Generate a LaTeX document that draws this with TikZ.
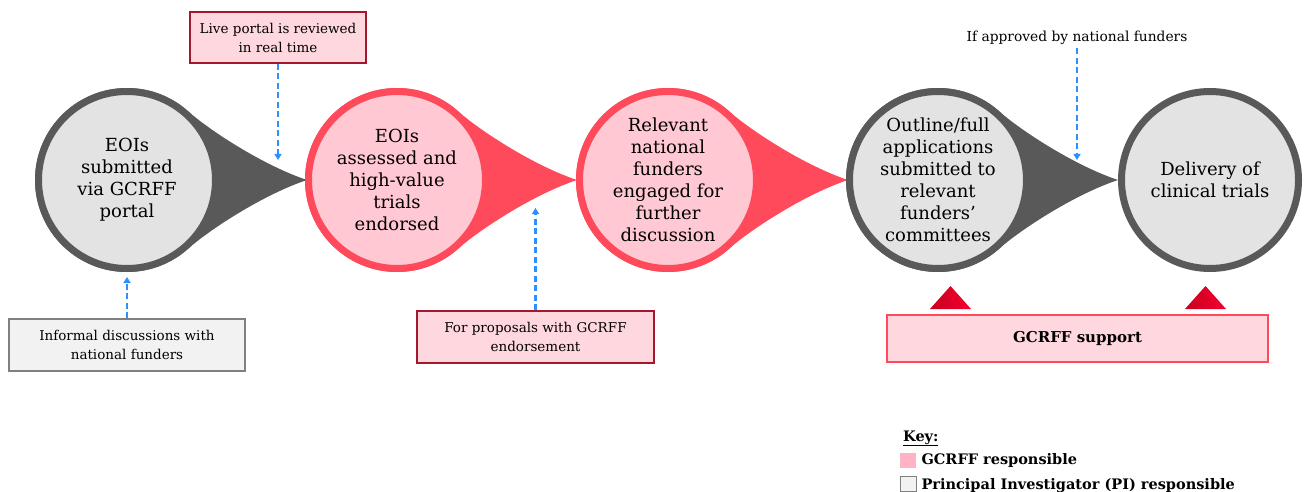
\documentclass[tikz,border=0pt]{standalone}
\usepackage{fontspec}
\setmainfont{DejaVu Serif}
\usepackage{tikz}
\usetikzlibrary{positioning,arrows.meta}

\definecolor{ringgray}{HTML}{595959}
\definecolor{fillgray}{HTML}{E3E3E3}
\definecolor{ringred}{HTML}{FF4A5C}
\definecolor{fillpink}{HTML}{FFC8D2}
\definecolor{boxpink}{HTML}{FFD8DF}
\definecolor{boxred}{HTML}{A3182C}
\definecolor{boxgray}{HTML}{F2F2F2}
\definecolor{keypink}{HTML}{FFB3C3}
\definecolor{linkblue}{HTML}{2E8FFF}
\definecolor{markdark}{HTML}{C80020}
\definecolor{marklight}{HTML}{F5002E}

% tail of a bubble: centre, colour
\newcommand{\teardrop}[2]{%
  \fill[#2, shift={(#1)}] (180,0) .. controls (135,15) and (81,51) .. (48:92)
    arc[start angle=48, end angle=312, radius=92]
    .. controls (81,-51) and (135,-15) .. (180,0) -- cycle;}

\begin{document}
\begin{tikzpicture}[x=1pt, y=1pt,
  bubble/.style={circle, minimum size=177, line width=7, align=center,
    inner sep=0pt, font=\fontsize{18}{22}\selectfont},
  graybubble/.style={bubble, draw=ringgray, fill=fillgray},
  redbubble/.style={bubble, draw=ringred, fill=fillpink},
  note/.style={rectangle, align=center, line width=1.2, font=\fontsize{13.5}{19}\selectfont},
  pinknote/.style={note, draw=boxred, fill=boxpink},
  graynote/.style={note, draw=gray, fill=boxgray},
  link/.style={linkblue, line width=2.6, dash pattern=on 6pt off 3.5pt,
    -{Triangle[length=6pt, width=7pt]}},
  marker/.style={left color=markdark, right color=marklight}]
  \useasboundingbox (0,0) rectangle (1304,491);

  \coordinate (c1) at (127,311);
  \coordinate (c2) at (397,311);
  \coordinate (c3) at (668,311);
  \coordinate (c4) at (938,311);
  \coordinate (c5) at (1210,311);

  \teardrop{c1}{ringgray}
  \teardrop{c2}{ringred}
  \teardrop{c3}{ringred}
  \teardrop{c4}{ringgray}

  \node[graybubble] (submit) at (c1) {EOIs\\submitted\\via GCRFF\\portal};
  \node[redbubble] (assess) at (c2) {EOIs\\assessed and\\high-value\\trials\\endorsed};
  \node[redbubble] (engage) at (c3) {Relevant\\national\\funders\\engaged for\\further\\discussion};
  \node[graybubble] (apply) at (c4) {Outline/full\\applications\\submitted to\\relevant\\funders’\\committees};
  \node[graybubble] (deliver) at (c5) {Delivery of\\clinical trials};

  \node[pinknote, minimum width=176, minimum height=51] (live) at (278,453.5)
    {Live portal is reviewed\\in real time};
  \node[graynote, minimum width=236, minimum height=52] (informal) at (127,146)
    {Informal discussions with\\national funders};
  \node[pinknote, minimum width=237, minimum height=52] (proposals) at (535.5,154)
    {For proposals with GCRFF\\endorsement};
  \node[font=\fontsize{13.8}{16}\selectfont] (approved) at (1077,453)
    {If approved by national funders};

  \coordinate (livetip) at (278,331);
  \coordinate (informaltip) at (127,214);
  \coordinate (proposalstip) at (535.5,283);
  \coordinate (approvedtip) at (1077,331);

  \draw[link] (live.south) -- (livetip);
  \draw[link] (informal.north) -- (informaltip);
  \draw[link] (proposals.north) -- (proposalstip);
  \draw[link] (approved.south) -- (approvedtip);

  \node[rectangle, draw=ringred, fill=boxpink, line width=1.2, minimum width=381,
    minimum height=47, font=\bfseries\fontsize{15}{18}\selectfont] (support)
    at (1077.5,152.5) {GCRFF support};
  \shade[marker] (930,182) -- (950.5,205) -- (971,182) -- cycle;
  \shade[marker] (1185,182) -- (1205.5,205) -- (1226,182) -- cycle;

  % key
  \node[anchor=base west, inner sep=0pt, font=\bfseries\fontsize{14.5}{17}\selectfont] (key)
    at (903,50) {\underline{Key:}};
  \fill[keypink] (900,23) rectangle (916,38);
  \node[anchor=west, font=\bfseries\fontsize{14.5}{17}\selectfont] (keygcrff) at (918,30.5)
    {GCRFF responsible};
  \draw[gray, fill=boxgray] (900.5,0) rectangle (916,15);
  \node[anchor=west, font=\bfseries\fontsize{14.5}{17}\selectfont] (keypi) at (918,5)
    {Principal Investigator (PI) responsible};
\end{tikzpicture}
\end{document}
